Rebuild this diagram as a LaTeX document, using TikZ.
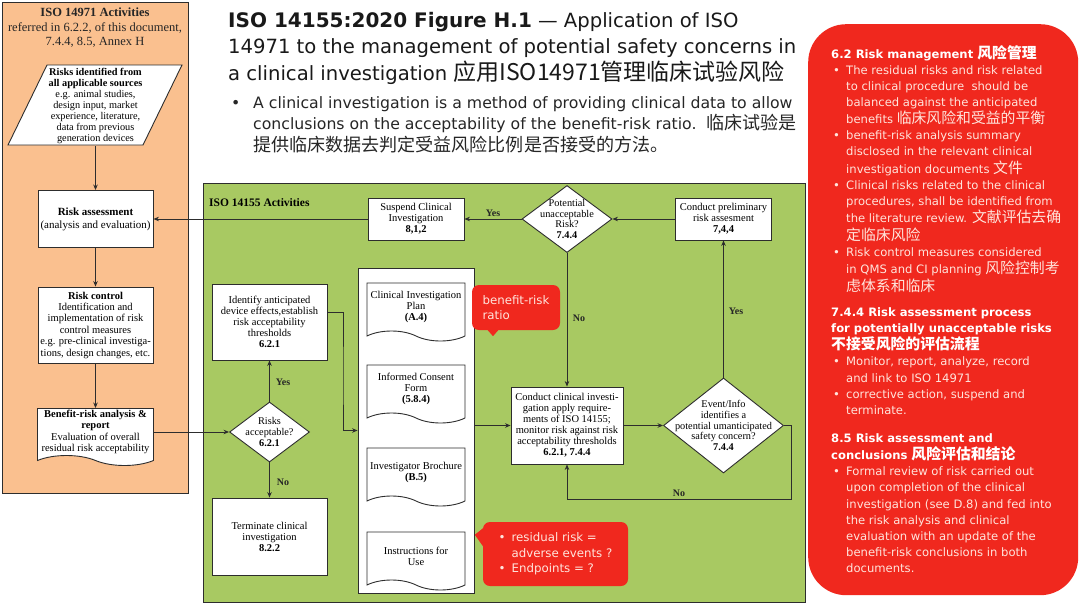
\documentclass[tikz,border=0pt]{standalone}
\usepackage{fontspec}
\setmainfont{Liberation Serif}
\newfontfamily\sansf{DejaVu Sans}
\newfontfamily\cjk[Scale=1.15]{Noto Sans CJK SC}
\newfontfamily\cjkp[Scale=1.28]{Noto Sans CJK SC}
\usetikzlibrary{shapes.geometric,shapes.symbols,arrows.meta,calc}
\definecolor{orangebg}{RGB}{250,192,143}
\definecolor{greenbg}{RGB}{168,201,98}
\definecolor{redbg}{RGB}{240,40,30}
\definecolor{paletext}{RGB}{255,228,220}
\definecolor{edge}{RGB}{45,45,45}
\newcommand\rb{\makebox[15pt][l]{\hspace{2pt}•}}
\begin{document}
\begin{tikzpicture}[x=1pt,y=-1pt,
 edgeline/.style={draw=edge, line width=0.9pt},
 box/.style={edgeline, fill=white, inner sep=1pt, align=center, font=\fontsize{10.5}{11}\selectfont},
 obox/.style={box, font=\fontsize{10.5}{11.4}\selectfont},
 dia/.style={diamond, edgeline, fill=white, inner sep=0pt},
 lab/.style={align=center, inner sep=0pt, font=\fontsize{10.3}{10.6}\selectfont},
 docshape/.style={tape, tape bend top=none, tape bend bottom=out and in, tape bend height=10pt, edgeline, fill=white, minimum width=98, minimum height=58, inner sep=1pt, align=center, font=\fontsize{10.5}{11}\selectfont},
 arr/.style={draw=edge, line width=0.8pt, -{Stealth[length=5.5pt,width=4.5pt]}},
 yn/.style={font=\bfseries\fontsize{10}{10}\selectfont, inner sep=0pt, text=black!85},
 callout/.style={fill=redbg, rounded corners=7pt, text=paletext, font=\sansf\fontsize{11.8}{15.5}\selectfont, align=left, inner sep=0pt},
 paneltext/.style={inner sep=0pt, anchor=base west, text=paletext, font=\sansf\fontsize{11.6}{16.1}\selectfont},
]
\useasboundingbox (0,0) rectangle (1080,608);
\fill[white] (0,0) rectangle (1080,608);

% panels
\node[draw=edge, line width=0.8pt, fill=orangebg, minimum width=186, minimum height=491, anchor=north west, inner sep=0] (opanel) at (2,2) {};
\node[draw=edge, line width=0.8pt, fill=greenbg, minimum width=602, minimum height=419, anchor=north west, inner sep=0] (gpanel) at (203,183) {};
\node[fill=redbg, rounded corners=38pt, minimum width=270, minimum height=571, anchor=north west, inner sep=0] (rpanel) at (808,24) {};

% title
\node[anchor=base west, inner sep=0, text=black!90, font=\sansf\fontsize{19.6}{26.5}\selectfont] (title) at (228,27)
 {\begin{tabular}[t]{@{}l@{}}{\bfseries\fontsize{20}{26.5}\selectfont ISO 14155:2020 Figure H.1} — Application of ISO\\
 14971 to the management of potential safety concerns in\\
 a clinical investigation {\cjk\fontsize{20}{26.5}\selectfont 应用ISO14971管理临床试验风险}\end{tabular}};
\node[anchor=base west, inner sep=0, text=black!85, font=\sansf\fontsize{15.7}{21.5}\selectfont] (intro) at (231,108)
 {\begin{tabular}[t]{@{}l@{}l@{}}\makebox[22pt][l]{•} & A clinical investigation is a method of providing clinical data to allow\\
 & conclusions on the acceptability of the benefit-risk ratio.\ \ {\cjk 临床试验是}\\
 & {\cjk 提供临床数据去判定受益风险比例是否接受的方法。}\end{tabular}};

% orange panel content
\node[anchor=north, inner sep=0, align=center, font=\fontsize{12.5}{14.5}\selectfont, text=black!85] (otitle) at (95,8)
 {\textbf{ISO 14971 Activities}\\referred in 6.2.2, of this document,\\7.4.4, 8.5, Annex H};
\filldraw[edgeline, fill=white] (8,145) -- (47,65) -- (182,65) -- (143,145) -- cycle;
\node[align=center, inner sep=0, minimum width=135, minimum height=80, font=\fontsize{10.3}{11}\selectfont] (src) at (95.5,106) {\textbf{Risks identified from}\\\textbf{all applicable sources}\\e.g. animal studies,\\design input, market\\experience, literature,\\data from previous\\generation devices};
\node[obox, minimum width=115, minimum height=57, font=\fontsize{11}{13}\selectfont] (ra) at (95.5,219) {\textbf{Risk assessment}\\(analysis and evaluation)};
\node[obox, minimum width=115, minimum height=76] (rc) at (95.5,325) {\textbf{Risk control}\\Identification and\\implementation of risk\\control measures\\e.g. pre-clinical investiga-\\tions, design changes, etc.};
\node[docshape, minimum width=116, minimum height=57, font=\fontsize{10.5}{11.5}\selectfont] (br) at (95.5,432) {\textbf{Benefit-risk analysis \&}\\\textbf{report}\\Evaluation of overall\\residual risk acceptability};

% green panel content
\node[anchor=base west, inner sep=0, font=\bfseries\fontsize{11.5}{13}\selectfont] (gtitle) at (209,206) {ISO 14155 Activities};
\node[box, minimum width=96, minimum height=42] (susp) at (416,219) {Suspend Clinical\\Investigation\\\textbf{8,1,2}};
\node[dia, minimum width=90, minimum height=67, label={[lab]center:{Potential\\unacceptable\\Risk?\\\textbf{7.4.4}}}] (pot) at (567,219) {};
\node[box, minimum width=96, minimum height=42] (prel) at (723.5,219) {Conduct preliminary\\risk assesment\\\textbf{7,4,4}};
\node[box, minimum width=112, minimum height=77] (cc) at (567,425.5) {Conduct clinical investi-\\gation apply require-\\ments of ISO 14155;\\monitor risk against risk\\acceptability thresholds\\\textbf{6.2.1, 7.4.4}};
\node[dia, minimum width=120, minimum height=95, label={[lab]center:{Event/Info\\identifies a\\potential umanticipated\\safety concern?\\\textbf{7.4.4}}}] (evt) at (723.5,425.5) {};
\node[box, minimum width=115, minimum height=76] (ident) at (269.5,322) {Identify anticipated\\device effects,establish\\risk acceptability\\thresholds\\\textbf{6.2.1}};
\node[dia, minimum width=80, minimum height=60, label={[lab]center:{Risks\\acceptable?\\\textbf{6.2.1}}}] (racc) at (269.5,432) {};
\node[box, minimum width=115, minimum height=77] (term) at (269.5,536.5) {Terminate clinical\\investigation\\\textbf{8.2.2}};
\node[edgeline, fill=white, minimum width=116, minimum height=325, inner sep=0] (docs) at (416,430.5) {};
\node[docshape] (cip) at (416,307) {Clinical Investigation\\Plan\\\textbf{(A.4)}};
\node[docshape] (icf) at (416,389) {Informed Consent\\Form\\\textbf{(5.8.4)}};
\node[docshape] (ib) at (416,472) {Investigator Brochure\\\textbf{(B.5)}};
\node[docshape] (ifu) at (416,556) {Instructions for\\Use};

\coordinate (jn) at (343,380);
\coordinate (noloop) at (791,499);

% connectors
\draw[arr] (src.south) -- (ra.north);
\draw[arr] (ra.south) -- (rc.north);
\draw[arr] (rc.south) -- (br.north);
\draw[arr] (br.east) -- (racc.west);
\draw[arr] (susp.west) -- (ra.east);
\draw[arr] (pot.west) -- (susp.east);
\draw[arr] (prel.west) -- (pot.east);
\draw[arr] (evt.north) -- (prel.south);
\draw[arr] (pot.south) -- (cc.north);
\draw[arr] (cc.east) -- (evt.west);
\draw[arr] (evt.east) -| (noloop) -| (cc.south);
\draw[arr] (racc.north) -- (ident.south);
\draw[arr] (racc.south) -- (term.north);
\draw[arr] ([yshift=10pt]ident.east) -| (jn) |- (docs.west);
\draw[arr] (docs.east |- cc.west) -- (cc.west);

% yes / no labels
\node[yn] (yes1) at (493,213) {Yes};
\node[yn] (yes2) at (736,311) {Yes};
\node[yn] (no1) at (579,318) {No};
\node[yn] (no2) at (679,493) {No};
\node[yn] (yes3) at (283,382) {Yes};
\node[yn] (no3) at (283,482) {No};

% callouts
\node[callout, minimum width=88, minimum height=45] (cb1) at (516,307.5) {benefit-risk\\ratio};
\fill[redbg] ($(cb1.south)+(-30,-2)$) -- ($(cb1.south)+(-23,6)$) -- ($(cb1.south)+(-16,-2)$) -- cycle;
\node[callout, minimum width=145, minimum height=64] (cb2) at (555.5,554)
 {\begin{tabular}{@{}l@{\hspace{6pt}}l@{}}•& residual risk =\\ & adverse events ?\\ •& Endpoints = ?\end{tabular}};
\fill[redbg] ($(cb2.north west)+(2,5)$) -- ($(cb2.north west)+(-8,13)$) -- ($(cb2.north west)+(2,27)$) -- cycle;

% right panel text
\node[paneltext] (rs1) at (831,58) {\begin{tabular}[t]{@{}l@{}l@{}}
\multicolumn{2}{@{}l@{}}{\color{white}\bfseries 6.2 Risk management {\cjkp 风险管理}}\\
\rb & The residual risks and risk related\\
& to clinical procedure\ \ should be\\
& balanced against the anticipated\\
& benefits {\cjkp 临床风险和受益的平衡}\\
\rb & benefit-risk analysis summary\\
& disclosed in the relevant clinical\\
& investigation documents {\cjkp 文件}\\
\rb & Clinical risks related to the clinical\\
& procedures, shall be identified from\\
& the literature review. {\cjkp 文献评估去确}\\
& {\cjkp 定临床风险}\\
\rb & Risk control measures considered\\
& in QMS and CI planning {\cjkp 风险控制考}\\
& {\cjkp 虑体系和临床}
\end{tabular}};
\node[paneltext] (rs2) at (831,316) {\begin{tabular}[t]{@{}l@{}l@{}}
\multicolumn{2}{@{}l@{}}{\color{white}\bfseries 7.4.4 Risk assessment process}\\
\multicolumn{2}{@{}l@{}}{\color{white}\bfseries for potentially unacceptable risks}\\
\multicolumn{2}{@{}l@{}}{\color{white}\bfseries {\cjkp 不接受风险的评估流程}}\\
\rb & Monitor, report, analyze, record\\
& and link to ISO 14971\\
\rb & corrective action, suspend and\\
& terminate.
\end{tabular}};
\node[paneltext] (rs3) at (831,442) {\begin{tabular}[t]{@{}l@{}l@{}}
\multicolumn{2}{@{}l@{}}{\color{white}\bfseries 8.5 Risk assessment and}\\
\multicolumn{2}{@{}l@{}}{\color{white}\bfseries conclusions {\cjkp 风险评估和结论}}\\
\rb & Formal review of risk carried out\\
& upon completion of the clinical\\
& investigation (see D.8) and fed into\\
& the risk analysis and clinical\\
& evaluation with an update of the\\
& benefit-risk conclusions in both\\
& documents.
\end{tabular}};
\end{tikzpicture}
\end{document}
